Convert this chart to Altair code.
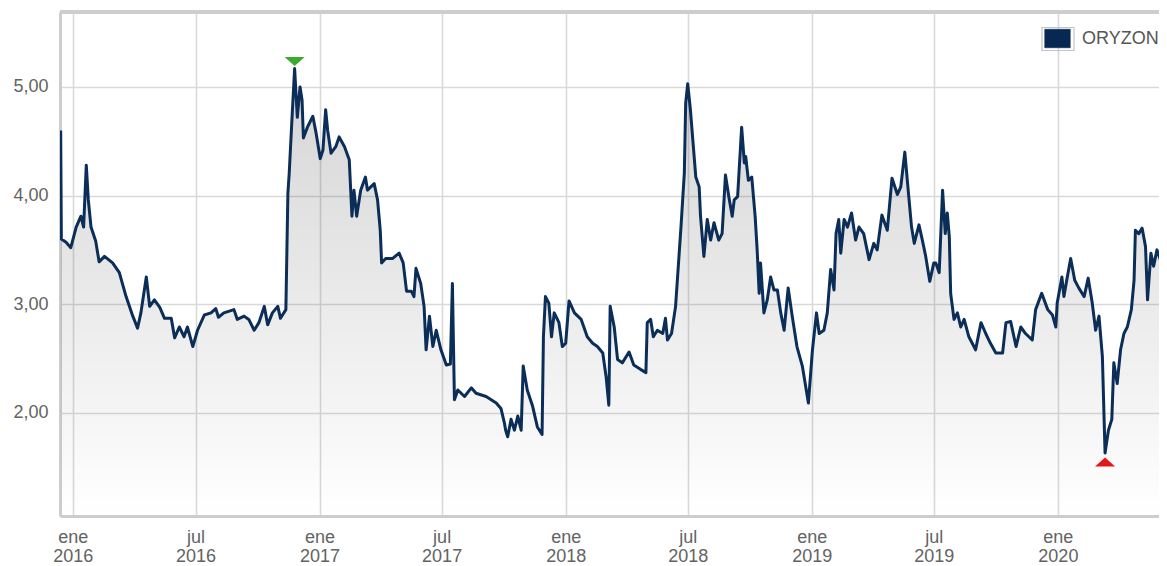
import altair as alt
import pandas as pd

fechas = [
    "2015-12-14", "2015-12-15", "2015-12-22", "2015-12-29", "2016-01-06", "2016-01-13", "2016-01-17",
    "2016-01-21", "2016-01-24", "2016-01-28", "2016-02-04", "2016-02-09", "2016-02-17", "2016-02-29",
    "2016-03-10", "2016-03-20", "2016-03-30", "2016-04-06", "2016-04-11", "2016-04-19", "2016-04-24",
    "2016-05-01", "2016-05-09", "2016-05-16", "2016-05-26", "2016-05-31", "2016-06-07", "2016-06-14",
    "2016-06-19", "2016-06-27", "2016-07-04", "2016-07-14", "2016-07-24", "2016-07-31", "2016-08-04",
    "2016-08-12", "2016-08-27", "2016-09-01", "2016-09-11", "2016-09-18", "2016-09-26", "2016-10-03",
    "2016-10-11", "2016-10-16", "2016-10-23", "2016-10-31", "2016-11-04", "2016-11-12", "2016-11-15",
    "2016-11-17", "2016-11-21", "2016-11-25", "2016-11-27", "2016-11-29", "2016-12-03", "2016-12-06",
    "2016-12-08", "2016-12-14", "2016-12-22", "2016-12-27", "2017-01-02", "2017-01-06", "2017-01-10",
    "2017-01-13", "2017-01-18", "2017-01-25", "2017-01-30", "2017-02-07", "2017-02-14", "2017-02-18",
    "2017-02-21", "2017-02-25", "2017-03-03", "2017-03-10", "2017-03-13", "2017-03-23", "2017-03-28",
    "2017-04-01", "2017-04-03", "2017-04-09", "2017-04-19", "2017-04-29", "2017-05-05", "2017-05-10",
    "2017-05-17", "2017-05-21", "2017-05-24", "2017-05-31", "2017-06-05", "2017-06-08", "2017-06-13",
    "2017-06-18", "2017-06-23", "2017-06-30", "2017-07-08", "2017-07-14", "2017-07-17", "2017-07-20",
    "2017-07-25", "2017-08-04", "2017-08-14", "2017-08-21", "2017-09-05", "2017-09-20", "2017-09-27",
    "2017-10-02", "2017-10-04", "2017-10-07", "2017-10-12", "2017-10-17", "2017-10-22", "2017-10-27",
    "2017-10-30", "2017-11-05", "2017-11-13", "2017-11-20", "2017-11-27", "2017-11-29", "2017-12-02",
    "2017-12-07", "2017-12-11", "2017-12-15", "2017-12-22", "2017-12-27", "2018-01-01", "2018-01-06",
    "2018-01-14", "2018-01-24", "2018-02-02", "2018-02-10", "2018-02-17", "2018-02-25", "2018-03-02",
    "2018-03-06", "2018-03-08", "2018-03-14", "2018-03-19", "2018-03-26", "2018-04-05", "2018-04-12",
    "2018-04-22", "2018-04-30", "2018-05-02", "2018-05-07", "2018-05-11", "2018-05-17", "2018-05-25",
    "2018-05-29", "2018-06-01", "2018-06-07", "2018-06-13", "2018-06-21", "2018-06-26", "2018-06-28",
    "2018-07-01", "2018-07-05", "2018-07-13", "2018-07-18", "2018-07-20", "2018-07-25", "2018-07-30",
    "2018-08-04", "2018-08-09", "2018-08-16", "2018-08-21", "2018-08-26", "2018-08-31", "2018-09-05",
    "2018-09-08", "2018-09-13", "2018-09-19", "2018-09-23", "2018-09-25", "2018-09-29", "2018-10-04",
    "2018-10-09", "2018-10-12", "2018-10-15", "2018-10-17", "2018-10-22", "2018-10-27", "2018-11-01",
    "2018-11-06", "2018-11-11", "2018-11-16", "2018-11-21", "2018-11-27", "2018-12-03", "2018-12-10",
    "2018-12-18", "2018-12-27", "2019-01-02", "2019-01-08", "2019-01-12", "2019-01-19", "2019-01-24",
    "2019-01-29", "2019-02-03", "2019-02-06", "2019-02-10", "2019-02-13", "2019-02-18", "2019-02-23",
    "2019-03-01", "2019-03-07", "2019-03-12", "2019-03-19", "2019-03-27", "2019-04-03", "2019-04-08",
    "2019-04-15", "2019-04-23", "2019-04-30", "2019-05-08", "2019-05-13", "2019-05-19", "2019-05-24",
    "2019-05-29", "2019-06-02", "2019-06-09", "2019-06-14", "2019-06-19", "2019-06-25", "2019-07-01",
    "2019-07-04", "2019-07-09", "2019-07-14", "2019-07-18", "2019-07-21", "2019-07-24", "2019-07-26",
    "2019-07-31", "2019-08-05", "2019-08-10", "2019-08-15", "2019-08-22", "2019-09-01", "2019-09-09",
    "2019-09-16", "2019-09-23", "2019-10-01", "2019-10-11", "2019-10-16", "2019-10-23", "2019-10-31",
    "2019-11-07", "2019-11-14", "2019-11-24", "2019-11-29", "2019-12-08", "2019-12-17", "2019-12-24",
    "2019-12-29", "2019-12-31", "2020-01-07", "2020-01-10", "2020-01-15", "2020-01-20", "2020-01-26",
    "2020-02-01", "2020-02-09", "2020-02-15", "2020-02-21", "2020-02-26", "2020-03-02", "2020-03-07",
    "2020-03-11", "2020-03-16", "2020-03-21", "2020-03-24", "2020-03-29", "2020-04-03", "2020-04-08",
    "2020-04-13", "2020-04-19", "2020-04-23", "2020-04-25", "2020-04-30", "2020-05-05", "2020-05-10",
    "2020-05-13", "2020-05-18", "2020-05-22", "2020-05-27", "2020-06-01", "2020-06-06", "2020-06-10",
]

precios = [
    4.60, 3.60, 3.57, 3.52, 3.71, 3.81, 3.71,
    4.28, 3.96, 3.71, 3.58, 3.39, 3.44, 3.38,
    3.29, 3.07, 2.89, 2.78, 2.92, 3.25, 2.98,
    3.04, 2.97, 2.87, 2.87, 2.69, 2.79, 2.70,
    2.79, 2.61, 2.76, 2.90, 2.92, 2.96, 2.88,
    2.92, 2.95, 2.86, 2.89, 2.86, 2.76, 2.83,
    2.98, 2.81, 2.92, 2.98, 2.87, 2.95, 4.02,
    4.21, 4.70, 5.17, 4.94, 4.72, 5.00, 4.88,
    4.53, 4.63, 4.73, 4.57, 4.34, 4.42, 4.79,
    4.60, 4.39, 4.45, 4.54, 4.45, 4.33, 3.81,
    4.05, 3.81, 4.05, 4.17, 4.05, 4.11, 3.96,
    3.68, 3.38, 3.42, 3.42, 3.47, 3.38, 3.12,
    3.12, 3.07, 3.33, 3.19, 2.98, 2.58, 2.89,
    2.61, 2.76, 2.58, 2.44, 2.45, 3.19, 2.12,
    2.21, 2.15, 2.23, 2.18, 2.15, 2.09, 2.04,
    1.91, 1.84, 1.78, 1.94, 1.84, 1.97, 1.84,
    2.43, 2.21, 2.06, 1.87, 1.80, 2.70, 3.07,
    3.01, 2.70, 2.92, 2.83, 2.61, 2.64, 3.03,
    2.92, 2.86, 2.70, 2.64, 2.61, 2.55, 2.33,
    2.07, 2.98, 2.79, 2.49, 2.46, 2.56, 2.44,
    2.40, 2.37, 2.83, 2.86, 2.70, 2.76, 2.73,
    2.87, 2.67, 2.73, 2.98, 3.71, 4.21, 4.85,
    5.03, 4.79, 4.17, 4.08, 3.81, 3.44, 3.78,
    3.59, 3.75, 3.59, 3.65, 4.19, 3.99, 3.81,
    3.96, 3.99, 4.63, 4.30, 4.36, 4.14, 4.17,
    3.81, 3.50, 3.10, 3.38, 2.92, 3.04, 3.25,
    3.13, 3.13, 2.92, 2.76, 3.15, 2.89, 2.61,
    2.43, 2.09, 2.58, 2.92, 2.73, 2.76, 2.92,
    3.32, 3.13, 3.65, 3.78, 3.47, 3.78, 3.71,
    3.84, 3.59, 3.71, 3.65, 3.41, 3.56, 3.50,
    3.82, 3.68, 4.16, 4.01, 4.08, 4.40, 4.05,
    3.71, 3.56, 3.73, 3.59, 3.44, 3.21, 3.38,
    3.38, 3.29, 4.05, 3.65, 3.84, 3.62, 3.10,
    2.86, 2.92, 2.79, 2.86, 2.70, 2.58, 2.83,
    2.73, 2.64, 2.55, 2.55, 2.83, 2.84, 2.61,
    2.79, 2.73, 2.67, 2.95, 3.10, 2.95, 2.90,
    2.79, 3.01, 3.25, 3.07, 3.25, 3.42, 3.22,
    3.15, 3.07, 3.24, 3.01, 2.76, 2.89, 2.52,
    1.63, 1.84, 1.94, 2.46, 2.27, 2.58, 2.73,
    2.79, 2.95, 3.22, 3.68, 3.65, 3.70, 3.53,
    3.04, 3.47, 3.35, 3.50, 3.41, 3.25, 3.30,
]

serie = "ORYZON"
marco = "marco"
y_ticks = [2, 3, 4, 5]
y_dominio = [1.05, 5.69]
x_ticks = [(2016, 1), (2016, 7), (2017, 1), (2017, 7), (2018, 1),
           (2018, 7), (2019, 1), (2019, 7), (2020, 1)]
x_dominio = [(2015, 12, 13), (2020, 5, 30)]

NAVY = "#0b2e59"
GRID = "#d9d9d9"
BORDER = "#cdcdcd"
LABEL = "#636363"
FONT = "Liberation Sans"

df = pd.DataFrame({"fecha": fechas, "precio": precios, "serie": serie, "marco": marco})

x_enc = alt.X(
    "fecha:T",
    scale=alt.Scale(
        type="utc",
        domain=[alt.DateTime(year=a, month=m, date=d, utc=True) for a, m, d in x_dominio],
    ),
    axis=alt.Axis(
        values=[alt.DateTime(year=a, month=m, date=1, utc=True) for a, m in x_ticks],
        labelExpr="[utcFormat(datum.value, '%m') == '01' ? 'ene' : 'jul', utcFormat(datum.value, '%Y')]",
        title=None,
        grid=True,
        gridColor=GRID,
        gridWidth=1.6,
        ticks=False,
        domain=True,
        domainColor=BORDER,
        domainWidth=3,
        labelFont=FONT,
        labelFontSize=18,
        labelColor=LABEL,
        labelPadding=12,
        labelLineHeight=19,
        labelOverlap=False,
    ),
)

y_enc = alt.Y(
    "precio:Q",
    scale=alt.Scale(domain=y_dominio, zero=False, nice=False),
    axis=alt.Axis(
        values=y_ticks,
        labelExpr="replace(format(datum.value, '.2f'), '.', ',')",
        title=None,
        grid=True,
        gridColor=GRID,
        gridWidth=1.6,
        ticks=False,
        domain=True,
        domainColor=BORDER,
        domainWidth=3,
        labelFont=FONT,
        labelFontSize=18,
        labelColor=LABEL,
        labelPadding=12,
    ),
)

base = alt.Chart(df)

area = base.mark_area(
    clip=True,
    color=alt.Gradient(
        gradient="linear",
        stops=[
            alt.GradientStop(color="rgba(0,0,0,0.17)", offset=0),
            alt.GradientStop(color="rgba(0,0,0,0.0)", offset=1),
        ],
        x1=0, x2=0, y1=0, y2=1,
    ),
).encode(x=x_enc, y=y_enc, y2=alt.datum(y_dominio[0]))

LEG_X = 981
LEG_Y = 10

# top frame line; its opacity legend draws the outer box of the legend swatch
top_rule = alt.Chart(df).mark_rule(color=BORDER, strokeWidth=3).encode(
    y=alt.datum(y_dominio[1]),
    opacity=alt.Opacity(
        "marco:O",
        scale=alt.Scale(domain=[marco], range=[1]),
        legend=alt.Legend(
            title=None,
            orient="none",
            legendX=LEG_X,
            legendY=LEG_Y,
            symbolType="M-1,-0.72H1V0.72H-1Z",
            symbolSize=1024,
            symbolFillColor="transparent",
            symbolStrokeColor="#c4c4c4",
            symbolStrokeWidth=1.2,
            symbolOpacity=1,
            labelExpr="''",
            labelFontSize=1,
            labelOffset=0,
        ),
    ),
)

line = base.mark_line(clip=True, strokeWidth=3, strokeJoin="round").encode(
    x=x_enc,
    y=y_enc,
    color=alt.Color(
        "serie:N",
        scale=alt.Scale(domain=[serie], range=[NAVY]),
        legend=alt.Legend(
            title=None,
            orient="none",
            legendX=LEG_X,
            legendY=LEG_Y,
            symbolType="M-0.8,-0.58H0.8V0.58H-0.8Z",
            symbolSize=1024,
            symbolFillColor="#072853",
            symbolStrokeColor="#072853",
            symbolStrokeWidth=0.5,
            labelFont=FONT,
            labelFontSize=18,
            labelColor="#555555",
            labelOffset=8,
            labelLimit=400,
        ),
    ),
)

tri_down = "M-1,-0.45L1,-0.45L0,0.45Z"
tri_up = "M-1,0.45L1,0.45L0,-0.45Z"

max_pt = base.transform_joinaggregate(pmax="max(precio)").transform_filter(
    "datum.precio == datum.pmax"
).mark_point(shape=tri_down, filled=True, color="#3aab2f", opacity=1, size=400, yOffset=-7).encode(
    x="fecha:T", y="precio:Q"
)

min_pt = base.transform_joinaggregate(pmin="min(precio)").transform_filter(
    "datum.precio == datum.pmin"
).mark_point(shape=tri_up, filled=True, color="#e3161c", opacity=1, size=400, yOffset=9).encode(
    x="fecha:T", y="precio:Q"
)

chart = alt.layer(area, top_rule, line, max_pt, min_pt).properties(
    width=1099,
    height=504,
    padding={"left": 52, "top": 4, "right": 0, "bottom": 50},
    autosize=alt.AutoSizeParams(type="none"),
).configure_view(stroke=None).configure(background="white")

chart.save("out.html", embed_options={"renderer": "svg", "actions": False})
